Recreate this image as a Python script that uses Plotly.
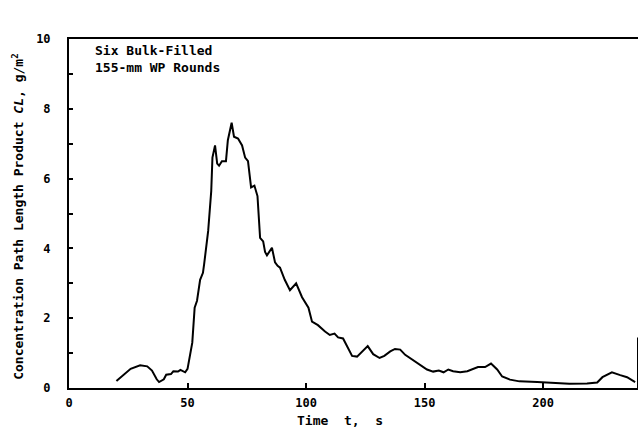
import plotly.graph_objects as go

# Time (s) and concentration path length product CL (g/m^2)
time_s = [20, 23, 26, 30, 33, 35, 37, 38, 40, 41, 43, 44, 46, 47, 49, 50, 51, 52, 53, 54,
          55.3, 56.5, 57, 58.7, 60, 60.5, 61.6, 62.5, 63.3, 64.5, 66.2, 67, 68.6, 69.6, 71.3,
          73, 74.3, 75.5, 76.8, 78.2, 79.5, 80.6, 81.9, 82.7, 83.5, 85.6, 86.9, 88, 89, 91,
          93.2, 95.8, 98.3, 101, 102.5, 105, 108, 110, 112, 113.5, 115.6, 119.4, 121.5, 124,
          126, 128.3, 131, 133, 135.5, 137.5, 139.7, 141.8, 145, 148, 151, 153.6, 156, 158,
          160, 162, 165, 168, 171, 172.5, 175.5, 178, 180.6, 182.7, 186, 190, 197.5, 204,
          211, 218.5, 222.8, 225, 229, 232.5, 235.4, 238.8]
cl_value = [0.2, 0.38, 0.55, 0.65, 0.62, 0.5, 0.25, 0.17, 0.25, 0.38, 0.4, 0.48, 0.47, 0.52,
            0.45, 0.55, 0.9, 1.3, 2.3, 2.5, 3.1, 3.3, 3.55, 4.5, 5.65, 6.6, 6.95, 6.43, 6.37,
            6.5, 6.5, 7.1, 7.6, 7.2, 7.15, 6.95, 6.6, 6.5, 5.75, 5.8, 5.5, 4.3, 4.2, 3.9, 3.8,
            4.02, 3.6, 3.5, 3.45, 3.1, 2.8, 3.0, 2.6, 2.3, 1.9, 1.8, 1.62, 1.52, 1.56, 1.45,
            1.42, 0.92, 0.9, 1.08, 1.2, 0.97, 0.86, 0.92, 1.05, 1.12, 1.1, 0.95, 0.8, 0.66,
            0.53, 0.47, 0.5, 0.45, 0.53, 0.48, 0.45, 0.48, 0.55, 0.6, 0.6, 0.7, 0.53, 0.33,
            0.24, 0.19, 0.17, 0.14, 0.12, 0.13, 0.16, 0.31, 0.45, 0.37, 0.31, 0.17]

x_ticks = [0, 50, 100, 150, 200]
y_ticks = [0, 2, 4, 6, 8, 10]

FONT = "DejaVu Sans Mono"

fig = go.Figure()
fig.add_trace(go.Scatter(x=time_s, y=cl_value, mode="lines",
                         line=dict(color="black", width=2), showlegend=False))

fig.update_layout(
    width=639, height=437,
    margin=dict(l=69, r=1, t=39, b=49),
    paper_bgcolor="white", plot_bgcolor="white",
    font=dict(family=FONT, color="black", size=12, weight="bold"),
    xaxis=dict(range=[0, 240], tickvals=x_ticks, ticktext=[str(v) for v in x_ticks],
               showline=True, linecolor="black", linewidth=2, mirror=True,
               ticks="inside", ticklen=5, tickwidth=2, tickcolor="black",
               showgrid=False, zeroline=False, ticklabelstandoff=3,
               tickfont=dict(family=FONT, size=12, weight="bold")),
    yaxis=dict(range=[0, 10], tickvals=y_ticks, ticktext=[str(v) for v in y_ticks],
               showline=True, linecolor="black", linewidth=2,
               ticks="inside", ticklen=4, tickwidth=2, tickcolor="black",
               minor=dict(dtick=1, ticks="inside", ticklen=4, tickwidth=2, tickcolor="black"),
               showgrid=False, zeroline=False, ticklabelstandoff=14,
               tickfont=dict(family=FONT, size=12, weight="bold")),
)

# short right-hand frame segment
fig.add_shape(type="line", xref="x", yref="y", x0=240, x1=240, y0=0, y1=1.45,
              line=dict(color="black", width=2))

fig.add_annotation(text="Six Bulk-Filled<br>155-mm WP Rounds", xref="paper", yref="paper",
                   x=0.043, y=0.995, xanchor="left", yanchor="top", showarrow=False,
                   align="left", font=dict(family=FONT, size=13, weight="bold"))
fig.add_annotation(text="Time  t,  s", xref="paper", yref="paper", x=(340 - 69) / 569,
                   y=-0.065, xanchor="center", yanchor="top", showarrow=False,
                   font=dict(family=FONT, size=13, weight="bold"))
fig.add_annotation(text="Concentration Path Length Product <i>CL</i>, g/m<sup>2</sup>",
                   xref="paper", yref="paper", x=-0.09, y=0.49, textangle=-90,
                   xanchor="center", yanchor="middle", showarrow=False,
                   font=dict(family=FONT, size=13, weight="bold"))

fig.write_html("out.html")
